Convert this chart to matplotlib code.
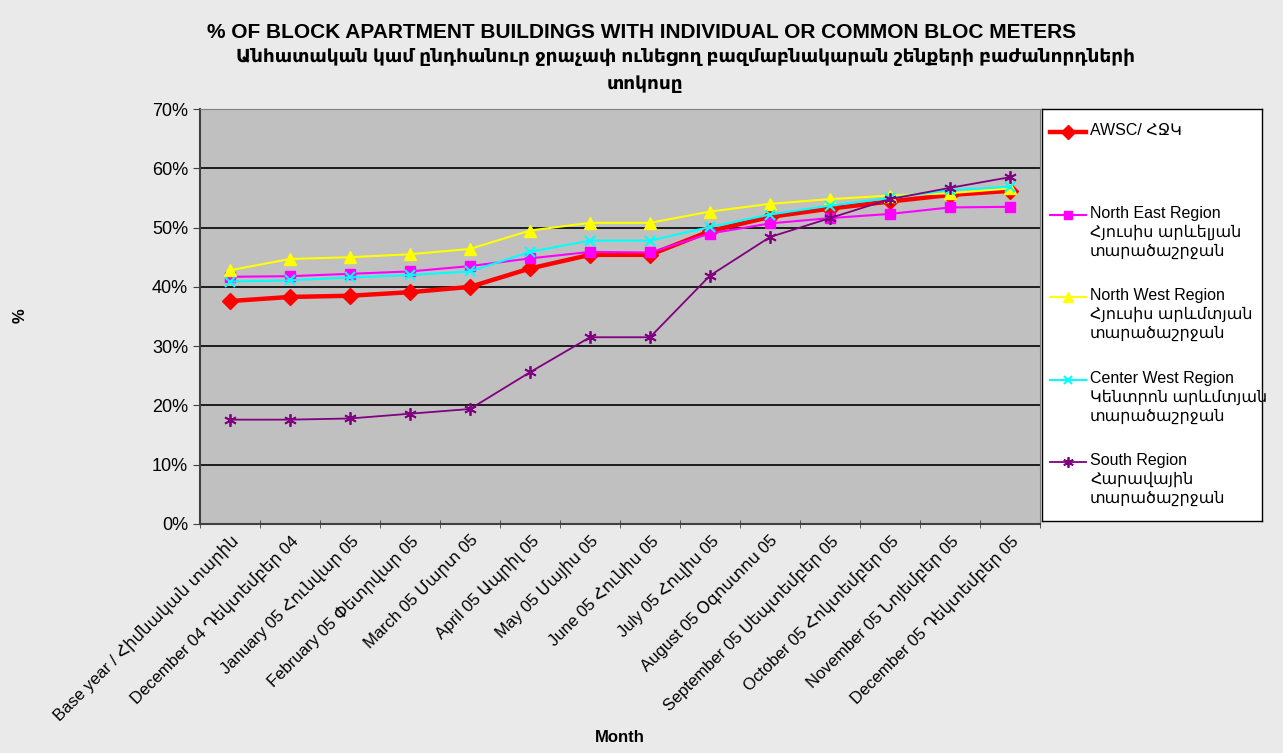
import numpy as np
import matplotlib.pyplot as plt
from matplotlib.lines import Line2D

plt.rcParams['font.family'] = ['Liberation Sans', 'DejaVu Sans']

months = ["Base year / Հիմնական տարին", "December 04 Դեկտեմբեր 04",
          "January 05 Հունվար 05", "February 05 Փետրվար 05",
          "March 05 Մարտ 05", "April 05 Ապրիլ 05", "May 05 Մայիս 05",
          "June 05 Հունիս 05", "July 05 Հուլիս 05", "August 05 Օգոստոս 05",
          "September 05 Սեպտեմբեր 05", "October 05 Հոկտեմբեր 05",
          "November 05 Նոյեմբեր 05", "December 05 Դեկտեմբեր 05"]

awsc = [37.6, 38.3, 38.5, 39.1, 40.0, 43.1, 45.4, 45.4, 49.4, 51.8, 53.2, 54.4, 55.5, 56.2]
north_east = [41.7, 41.8, 42.2, 42.6, 43.5, 44.8, 45.9, 45.8, 49.0, 50.7, 51.6, 52.3, 53.4, 53.5]
north_west = [42.8, 44.7, 45.0, 45.5, 46.4, 49.5, 50.8, 50.8, 52.7, 54.0, 54.8, 55.4, 55.8, 56.6]
center_west = [40.9, 41.1, 41.6, 42.0, 42.6, 45.9, 47.8, 47.8, 50.1, 52.2, 53.7, 55.0, 56.3, 56.9]
south = [17.6, 17.6, 17.8, 18.6, 19.4, 25.6, 31.5, 31.5, 41.9, 48.4, 51.6, 54.8, 56.7, 58.5]

labels = ["AWSC/ ՀՋԿ",
          "North East Region\nՀյուսիս արևելյան\nտարածաշրջան",
          "North West Region\nՀյուսիս արևմտյան\nտարածաշրջան",
          "Center West Region\nԿենտրոն արևմտյան\nտարածաշրջան",
          "South Region\nՀարավային\nտարածաշրջան"]

fig = plt.figure(figsize=(12.83, 7.53), dpi=100, facecolor='#EAEAEA')
ax = fig.add_axes([200/1283, 1-524/753, 840/1283, 415/753])
ax.set_facecolor('#C0C0C0')

x = np.arange(len(months))
series = [awsc, north_east, north_west, center_west, south]
styles = [dict(color='red', lw=3.2, marker='D', ms=8),
          dict(color='#FF00FF', lw=1.5, marker='s', ms=7),
          dict(color='#FFFF00', lw=1.5, marker='^', ms=8),
          dict(color='#00FFFF', lw=1.5, marker='x', ms=7, mew=1.5),
          dict(color='#800080', lw=1.3, marker=(6, 2, 0), ms=9, mew=1.3)]
for i in range(5):
    ax.plot(x, series[i], zorder=3 + i, **styles[i])

ax.set_xlim(-0.5, len(months) - 0.5)
ax.set_ylim(0, 70)
ax.set_yticks(np.arange(0, 71, 10))
ax.set_yticklabels(["%d%%" % v for v in range(0, 71, 10)], fontsize=13)
ax.yaxis.grid(True, color='black', lw=1.2)
ax.set_axisbelow(True)

ax.set_xticks(x)
ax.set_xticklabels(months, rotation=45, ha='right', rotation_mode='anchor', fontsize=12)
ax.tick_params(axis='x', length=0, pad=6)
ax.set_xticks(np.arange(-0.5, len(months)), minor=True)
ax.tick_params(axis='x', which='minor', length=6, direction='inout', color='#404040')
ax.tick_params(axis='y', length=5, direction='out', color='#404040')

for s in ['top', 'right']:
    ax.spines[s].set_color('#808080')
ax.spines['left'].set_color('#404040')
ax.spines['left'].set_linewidth(1.5)
ax.spines['bottom'].set_color('#404040')
ax.spines['bottom'].set_linewidth(1.5)

ax.set_xlabel("Month", fontsize=12, fontweight='bold')
ax.xaxis.set_label_coords(0.5, (524 - 730) / 415)
ax.set_ylabel("%", fontsize=12, fontweight='bold')
ax.yaxis.set_label_coords((28 - 200) / 840, (524 - 316) / 415)

fig.text(642 / 1283, 1 - 32 / 753, "% OF BLOCK APARTMENT BUILDINGS WITH INDIVIDUAL OR COMMON BLOC METERS",
         ha='center', va='center', fontsize=15, fontweight='bold')
fig.text(686 / 1283, 1 - 57 / 753,
         "Անհատական կամ ընդհանուր ջրաչափ ունեցող բազմաբնակարան շենքերի բաժանորդների",
         ha='center', va='center', fontsize=13.3, fontweight='bold')
fig.text(645 / 1283, 1 - 84 / 753, "տոկոսը", ha='center', va='center', fontsize=13.3, fontweight='bold')

# legend box
lax = fig.add_axes([1042/1283, 1-521/753, 220/1283, 412/753])
lax.set_xlim(0, 220)
lax.set_ylim(412, 0)
lax.set_xticks([])
lax.set_yticks([])
lax.set_facecolor('white')
for s in lax.spines.values():
    s.set_color('black')
    s.set_linewidth(1)
for k in range(5):
    yy = 23 + k * 82.5
    st = dict(styles[k])
    st['ms'] = st['ms'] * 0.85
    lax.add_line(Line2D([8, 26, 44], [yy, yy, yy], markevery=[1], **st))
    lax.text(48, yy - 9, labels[k], va='top', ha='left', fontsize=11.5, linespacing=1.3)

fig.savefig("out.png", dpi=100, facecolor=fig.get_facecolor())
